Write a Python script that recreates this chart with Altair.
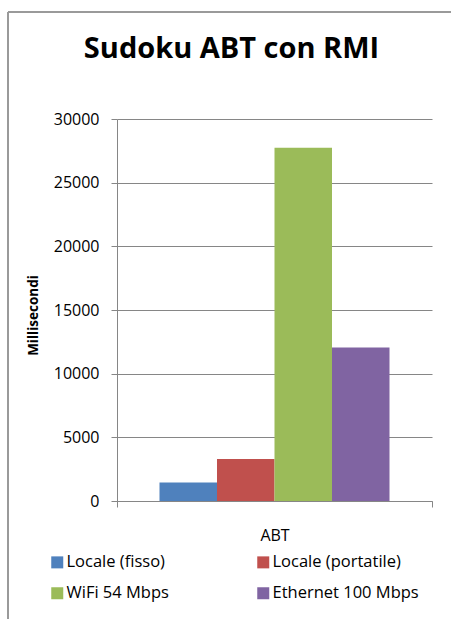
import altair as alt
import pandas as pd

series = ["Locale (fisso)", "Locale (portatile)", "WiFi 54 Mbps", "Ethernet 100 Mbps"]
values = [1450, 3300, 27750, 12050]
category = ["ABT", "ABT", "ABT", "ABT"]
colors = ["#4F81BD", "#C0504D", "#9BBB59", "#8064A2"]
y_ticks = [0, 5000, 10000, 15000, 20000, 25000, 30000]

df = pd.DataFrame({"cat": category, "serie": series, "ms": values})

FONT = "Open Sans"
GRAY = "#868686"

bars = alt.Chart(df).mark_bar().encode(
    x=alt.X("cat:N", title=None,
            scale=alt.Scale(paddingInner=0, paddingOuter=0),
            axis=alt.Axis(labelAngle=0, labelFontSize=16, labelFont=FONT, labelColor="#000",
                          tickBand="extent", tickSize=6, tickColor=GRAY, domainColor=GRAY,
                          labelPadding=20, grid=False)),
    xOffset=alt.XOffset("serie:N", sort=series,
                        scale=alt.Scale(paddingInner=0, paddingOuter=0.739)),
    y=alt.Y("ms:Q", title="Millisecondi",
            scale=alt.Scale(domain=[0, 30000], nice=False),
            axis=alt.Axis(values=y_ticks, format="d", labelFontSize=16, labelFont=FONT,
                          labelColor="#000",
                          tickSize=6, tickColor=GRAY, domainColor=GRAY, gridColor=GRAY,
                          labelPadding=12, titleFont=FONT, titleFontSize=13.5,
                          titleFontWeight="bold",
                          titleColor="#000", titleAngle=270, titleX=-84, titleY=196,
                          titleAlign="center", titleBaseline="middle")),
    color=alt.Color("serie:N", sort=series, scale=alt.Scale(domain=series, range=colors),
                    legend=alt.Legend(title=None, orient="none", legendX=-68, legendY=435,
                                      columns=2, direction="horizontal",
                                      symbolType="square", symbolSize=144,
                                      symbolStrokeWidth=0, labelFontSize=16.5, labelFont=FONT,
                                      labelColor="#000", columnPadding=86, rowPadding=14,
                                      labelOffset=1)),
)

frame_left = alt.Chart(df).mark_rule(color="#9a9a9a", strokeWidth=1.5).encode(
    x=alt.value(-109), y=alt.value(-107), y2=alt.value(520))
frame_top = alt.Chart(df).mark_rule(color="#9a9a9a", strokeWidth=1.5).encode(
    x=alt.value(-109), x2=alt.value(360), y=alt.value(-107))

chart = alt.layer(bars, frame_left, frame_top).properties(
    width=315, height=382,
    title=alt.TitleParams("Sudoku ABT con RMI", font=FONT, fontSize=29, fontWeight="bold",
                          color="#000", anchor="middle", dx=-43, offset=0, dy=53),
    autosize=alt.AutoSizeParams(type="none"),
    padding={"left": 117, "top": 119, "right": 19, "bottom": 118},
).configure_view(stroke=None)

chart.save("out.html", embed_options={"renderer": "svg", "actions": False})
